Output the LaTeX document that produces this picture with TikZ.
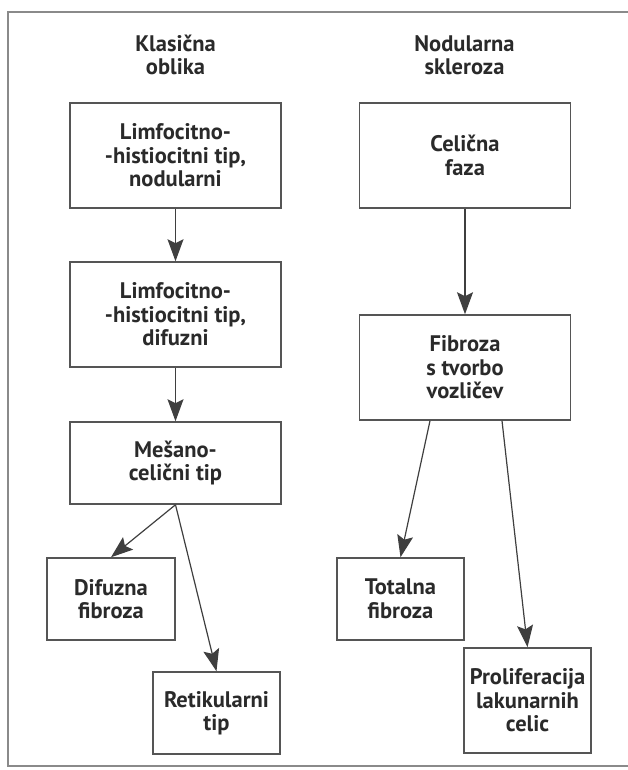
\documentclass[tikz,border=0pt]{standalone}
\usepackage{fontspec}
\setmainfont{PT Sans}
\usetikzlibrary{arrows.meta, positioning, calc}
\definecolor{frame}{HTML}{8A8A8A}
\definecolor{edge} {HTML}{555555}
\definecolor{ink}  {HTML}{2A2A2A}
\tikzset{
  stage/.style={draw=edge, line width=1.5pt, fill=white, align=center, inner sep=0pt,
    minimum width=211pt, minimum height=105pt},
  leaf/.style={stage, minimum width=127pt, minimum height=82pt},
  head/.style={align=center, text=ink},
  flow/.style={draw=ink!90, line width=1.2pt, -{Stealth[length=22pt, width=16pt, inset=4pt]}}
}
\begin{document}
\begin{tikzpicture}[x=1pt, y=-1pt, font=\fontsize{22.5}{23.5}\selectfont\bfseries, text=ink]
      \useasboundingbox (0,0) rectangle (628,770);
      % outer frame, open to the right
      \draw[frame, line width=1.2pt] (628,12) -- (8,12) -- (8,766) -- (628,766);
      \node[head] (hl) at (175.5,55) {Klasična\\oblika};
      \node[head] (hr) at (464.5,55) {Nodularna\\skleroza};
      % left column
      \node[stage] (lhnod) at (175.5,155.5) {Limfocitno-\\-histiocitni tip,\\nodularni};
      \node[stage] (lhdif) at (175.5,314.5) {Limfocitno-\\-histiocitni tip,\\difuzni};
      \node[stage, minimum height=82pt] (mes) at (175.5,463) {Mešano-\\celični tip};
      \node[leaf, minimum width=128pt] (dif) at (111,599) {Difuzna\\fibroza};
      \node[leaf] (ret) at (216.5,713) {Retikularni\\tip};
      % right column
      \node[stage] (cel) at (465,155.5) {Celična\\faza};
      \node[stage] (fib) at (465,367.5) {Fibroza\\s tvorbo\\vozličev};
      \node[leaf] (tot) at (400.5,599) {Totalna\\fibroza};
      \node[leaf, minimum height=105pt] (pro) at (527.5,700.5) {Proliferacija\\lakunarnih\\celic};
      \draw[flow] (lhnod) -- (lhdif);
      \draw[flow] (lhdif) -- (mes);
      \draw[flow] (mes.south) -- (dif.north);
      \draw[flow] (mes.south) -- (ret.north);
      \draw[flow] (cel) -- (fib);
      \draw[flow] ([xshift=-35pt]fib.south) -- (tot.north);
      \draw[flow] ([xshift=37pt]fib.south) -- (pro.north);
    \end{tikzpicture}
\end{document}
